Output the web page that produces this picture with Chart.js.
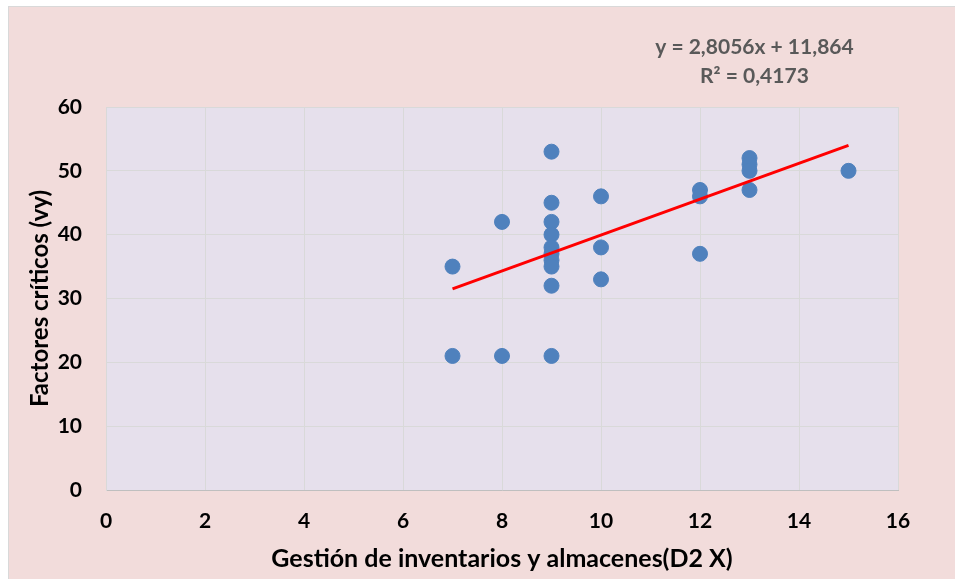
<!DOCTYPE html>
<html lang="es">
<head>
    <meta charset="UTF-8">
    <title>Factores críticos vs Gestión de inventarios</title>
    <style>
        html, body { margin: 0; padding: 0; background: #ffffff; }
        #frame {
            position: absolute; left: 8px; top: 6px;
            width: 946px; height: 572px;
            background: #f2dcdb; border: 1px solid #d9d9d9;
        }
        canvas { display: block; }
    </style>
</head>
<body>
    <div id="frame">
        <canvas id="scatterChart" width="946" height="572"></canvas>
    </div>

    <script src="https://cdn.jsdelivr.net/npm/chart.js@4.4.0/dist/chart.umd.min.js"></script>
    <script>
        // Points (D2 X vs vy)
        const xValues = [7, 7, 8, 8, 9, 9, 9, 9, 9, 9, 9, 9, 9, 9, 10, 10, 10, 12, 12, 12, 13, 13, 13, 13, 15];
        const yValues = [35, 21, 42, 21, 53, 45, 42, 40, 38, 37, 36, 35, 32, 21, 46, 38, 33, 47, 46, 37, 52, 51, 50, 47, 50];

        // Linear trend line ends
        const trendX = [7, 15];
        const trendY = [31.5, 54.0];
        const trendLabels = ['y = 2,8056x + 11,864', 'R² = 0,4173'];

        const xTicks = [0, 2, 4, 6, 8, 10, 12, 14, 16];
        const yTicks = [0, 10, 20, 30, 40, 50, 60];

        const points = xValues.map((x, i) => ({ x: x, y: yValues[i] }));
        const trend = trendX.map((x, i) => ({ x: x, y: trendY[i] }));

        const fontFam = 'Lato, "Open Sans", sans-serif';

        // plot area fill + equation text
        const plotBg = {
            id: 'plotBg',
            beforeDraw(chart) {
                const { ctx, chartArea: a } = chart;
                ctx.save();
                ctx.fillStyle = '#e6e0ec';
                ctx.fillRect(a.left, a.top, a.right - a.left, a.bottom - a.top);
                ctx.restore();
            },
            afterDraw(chart) {
                const ctx = chart.ctx;
                const cx = chart.scales.x.getPixelForValue(13.1);
                ctx.save();
                ctx.fillStyle = '#595959';
                ctx.font = 'bold 21px ' + fontFam;
                ctx.textAlign = 'center';
                ctx.textBaseline = 'middle';
                ctx.fillText(trendLabels[0], cx, 40);
                ctx.fillText(trendLabels[1], cx, 69);
                ctx.restore();
            }
        };

        new Chart(document.getElementById('scatterChart').getContext('2d'), {
            type: 'scatter',
            data: {
                datasets: [
                    {
                        label: 'Lineal',
                        type: 'line',
                        data: trend,
                        borderColor: '#ff0000',
                        borderWidth: 3,
                        pointRadius: 0,
                        fill: false
                    },
                    {
                        label: 'vy',
                        data: points,
                        backgroundColor: '#4f81bd',
                        borderColor: '#4f81bd',
                        pointRadius: 7.5,
                        pointHoverRadius: 7.5
                    }
                ]
            },
            options: {
                responsive: false,
                animation: false,
                layout: { padding: { left: 0, right: 57, top: 100, bottom: 0 } },
                plugins: {
                    legend: { display: false },
                    tooltip: { enabled: false }
                },
                scales: {
                    x: {
                        type: 'linear',
                        min: 0, max: 16,
                        afterFit(s) { s.height = 89; },
                        afterBuildTicks(s) { s.ticks = xTicks.map(v => ({ value: v })); },
                        ticks: { color: '#000', padding: 19, font: { family: fontFam, size: 21, weight: 'bold' } },
                        grid: { color: '#d9d9d9', drawTicks: false },
                        border: { color: '#bfbfbf' },
                        title: {
                            display: true,
                            text: 'Gestión de inventarios y almacenes(D2 X)',
                            color: '#000',
                            font: { family: fontFam, size: 25, weight: 'bold' },
                            padding: { top: 0, bottom: 5 }
                        }
                    },
                    y: {
                        type: 'linear',
                        min: 0, max: 60,
                        afterFit(s) { s.width = 97; },
                        afterBuildTicks(s) { s.ticks = yTicks.map(v => ({ value: v })); },
                        ticks: { color: '#000', padding: 24, font: { family: fontFam, size: 21, weight: 'bold' } },
                        grid: { color: '#d9d9d9', drawTicks: false },
                        border: { color: '#d9d9d9' },
                        title: {
                            display: true,
                            text: 'Factores críticos (vy)',
                            color: '#000',
                            font: { family: fontFam, size: 24, weight: 'bold' },
                            padding: { top: 17, bottom: 0 }
                        }
                    }
                }
            },
            plugins: [plotBg]
        });
    </script>
</body>
</html>
